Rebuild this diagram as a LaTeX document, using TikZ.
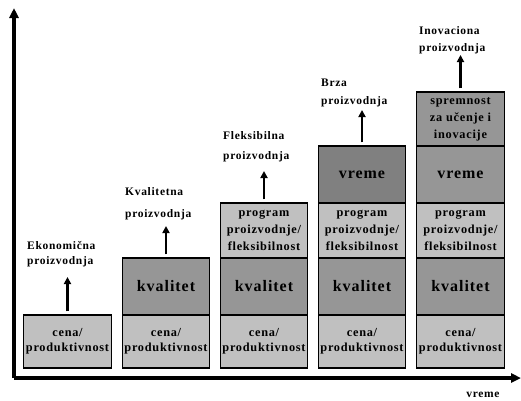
\documentclass[tikz,border=0pt]{standalone}
\usepackage{fontspec}
\setmainfont{Liberation Serif}[LetterSpace=6]
\usetikzlibrary{arrows.meta}
\definecolor{lightbox}{RGB}{192,192,192}
\definecolor{midbox}{RGB}{150,150,150}
\definecolor{darkbox}{RGB}{128,128,128}
\begin{document}
\begin{tikzpicture}[x=1pt,y=-1pt,
  axisline/.style={line width=3.5pt,-{Triangle[length=10pt,width=9pt]}},
  blk/.style={draw=black,line width=1.1pt,minimum width=87.5pt,inner sep=0pt,align=center},
  smalltxt/.style={font=\bfseries\fontsize{12.3}{15}\selectfont},
  threetxt/.style={font=\bfseries\fontsize{12.3}{17}\selectfont},
  bigtxt/.style={font=\bfseries\fontsize{16}{18}\selectfont},
  lab/.style={font=\bfseries\fontsize{11.5}{14}\selectfont,anchor=west,inner sep=0pt,text height=8pt,text depth=3pt},
  uparrow/.style={line width=2.5pt,-{Triangle[length=7pt,width=7pt]}}
]
\useasboundingbox (0,0) rectangle (521,400);
% axes
\coordinate (o) at (14,378);
\coordinate (ytop) at (14,8);
\coordinate (xend) at (521,378);
\draw[axisline] (o) -- (ytop);
\draw[axisline] (o) -- (xend);
\node[lab,anchor=center] (xlab) at (483,395) {vreme};

% column 1
\node[blk,smalltxt,fill=lightbox,minimum height=53pt] (a1) at (67.5,341.5) {cena/\\produktivnost};
% column 2
\node[blk,smalltxt,fill=lightbox,minimum height=53pt] (b1) at (166,341.5) {cena/\\produktivnost};
\node[blk,bigtxt,fill=midbox,minimum height=57pt] (b2) at (166,286.5) {kvalitet};
% column 3
\node[blk,smalltxt,fill=lightbox,minimum height=53pt] (c1) at (264,341.5) {cena/\\produktivnost};
\node[blk,bigtxt,fill=midbox,minimum height=57pt] (c2) at (264,286.5) {kvalitet};
\node[blk,threetxt,fill=lightbox,minimum height=55pt] (c3) at (264,230.5) {program\\proizvodnje/\\fleksibilnost};
% column 4
\node[blk,smalltxt,fill=lightbox,minimum height=53pt] (d1) at (362,341.5) {cena/\\produktivnost};
\node[blk,bigtxt,fill=midbox,minimum height=57pt] (d2) at (362,286.5) {kvalitet};
\node[blk,threetxt,fill=lightbox,minimum height=55pt] (d3) at (362,230.5) {program\\proizvodnje/\\fleksibilnost};
\node[blk,bigtxt,fill=darkbox,minimum height=57pt] (d4) at (362,174.5) {vreme};
% column 5
\node[blk,smalltxt,fill=lightbox,minimum height=53pt] (e1) at (460.5,341.5) {cena/\\produktivnost};
\node[blk,bigtxt,fill=midbox,minimum height=57pt] (e2) at (460.5,286.5) {kvalitet};
\node[blk,threetxt,fill=lightbox,minimum height=55pt] (e3) at (460.5,230.5) {program\\proizvodnje/\\fleksibilnost};
\node[blk,bigtxt,fill=midbox,minimum height=57pt] (e4) at (460.5,174.5) {vreme};
\node[blk,threetxt,fill=midbox,minimum height=54pt] (e5) at (460.5,119) {spremnost\\za učenje i\\inovacije};

% labels
\node[lab] (la1) at (27,247) {Ekonomična};
\node[lab] (la2) at (27,262) {proizvodnja};
\node[lab] (lb1) at (125,193) {Kvalitetna};
\node[lab] (lb2) at (125,215) {proizvodnja};
\node[lab] (lc1) at (223,137) {Fleksibilna};
\node[lab] (lc2) at (223,157) {proizvodnja};
\node[lab] (ld1) at (321,84) {Brza};
\node[lab] (ld2) at (321,102) {proizvodnja};
\node[lab] (le1) at (419,32) {Inovaciona};
\node[lab] (le2) at (419,49) {proizvodnja};

% arrow tips
\coordinate (ta) at (67.5,277);
\coordinate (tb) at (166,226);
\coordinate (tc) at (264,171);
\coordinate (td) at (362,110);
\coordinate (te) at (460.5,55);
\draw[uparrow] ([yshift=3pt]a1.north) -- (ta);
\draw[uparrow] ([yshift=3pt]b2.north) -- (tb);
\draw[uparrow] ([yshift=3pt]c3.north) -- (tc);
\draw[uparrow] ([yshift=3pt]d4.north) -- (td);
\draw[uparrow] ([yshift=3pt]e5.north) -- (te);
\end{tikzpicture}
\end{document}
